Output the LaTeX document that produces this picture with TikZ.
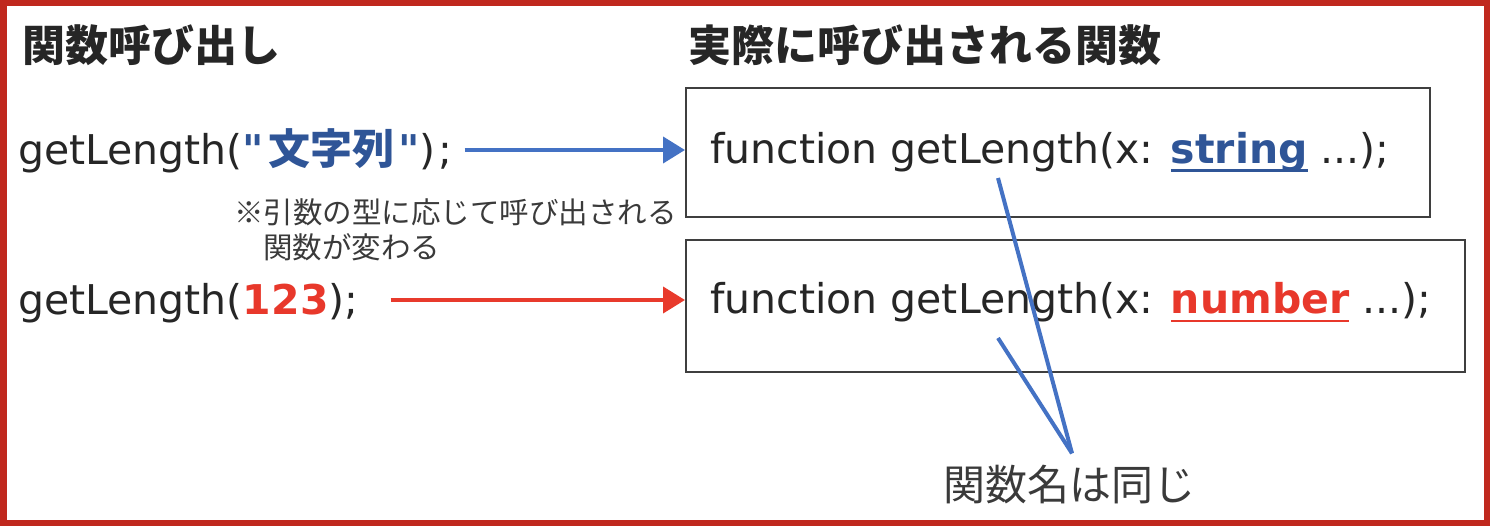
\documentclass[tikz,border=0pt]{standalone}
\usepackage{fontspec}
\setmainfont{DejaVu Sans}
\newfontfamily\dvplain{DejaVu Sans}
\newfontfamily\jp{Noto Sans CJK JP}
\usetikzlibrary{arrows.meta}
\definecolor{framered}{HTML}{C0281E}
\definecolor{cblue}{HTML}{2F5597}
\definecolor{cred}{HTML}{E8382B}
\definecolor{arrblue}{HTML}{4472C4}
\definecolor{arrred}{HTML}{E83A2C}
\definecolor{ink}{HTML}{262626}
\definecolor{notegray}{HTML}{3A3A3A}
\definecolor{boxline}{HTML}{3F3F3F}
\newsavebox\myulbox
\newcommand\myul[1]{\sbox\myulbox{#1}\rlap{\rule[-8pt]{\wd\myulbox}{2.5pt}}\usebox\myulbox}
\newcommand\sq{{\dvplain\bfseries"}}
\tikzset{
  titletext/.style={font={\jp\bfseries\fontsize{43}{43}\selectfont}, text=ink, inner sep=0pt, anchor=west},
  code/.style={font={\fontsize{41}{41}\selectfont}, text=ink, inner sep=0pt, anchor=base west},
  defbox/.style={draw=boxline, line width=2pt, inner sep=0pt},
  callarrow/.style={line width=4pt, -{Triangle[length=22pt,width=26pt]}},
  pointer/.style={draw=arrblue, line width=4pt},
  notetext/.style={font={\jp\fontsize{29.5}{35}\selectfont}, text=notegray, align=left, inner sep=0pt, anchor=north west},
  samelabel/.style={font={\jp\fontsize{42}{42}\selectfont}, text=notegray, inner sep=0pt}
}
\begin{document}
\begin{tikzpicture}[x=1pt,y=-1pt]
\useasboundingbox (0,0) rectangle (1490,526);
\draw[framered, line width=6.5pt] (3.25,3.25) rectangle (1486.75,522.75);

% titles
\node[titletext] (title1) at (22,45) {関数呼び出し};
\node[titletext] (title2) at (688,45) {実際に呼び出される関数};

% calls
\node[code] (call1) at (18,165) {getLength({\color{cblue}\sq\hspace{4pt}{\jp\bfseries\fontsize{42}{42}\selectfont 文字列}\hspace{4pt}\sq})\hspace{3pt};};
\node[code] (call2) at (18,315) {getLength({\bfseries\color{cred}123});};

% note
\node[notetext] (note) at (234,198) {※引数の型に応じて呼び出される\\\hspace{29pt}関数が変わる};

% definition boxes
\node[defbox, minimum width=744pt, minimum height=129pt] (def1) at (1058,152.5) {};
\node[defbox, minimum width=779pt, minimum height=132pt] (def2) at (1075.5,306) {};
\node[code] (def1t) at (710,164) {function getLength(x: {\bfseries\color{cblue}\myul{string}} ...);};
\node[code] (def2t) at (710,314) {function getLength(x: {\bfseries\color{cred}\myul{number}} ...);};

% arrows
\coordinate (b0) at ([xshift=12pt,yshift=15pt]call1.base east);
\coordinate (r0) at ([xshift=32pt,yshift=15pt]call2.base east);
\draw[callarrow, arrblue] (b0) -- (b0 -| def1.west);
\draw[callarrow, arrred] (r0) -- (r0 -| def2.west);

% same-name label and pointers
\node[samelabel] (same) at (1069,485) {関数名は同じ};
\coordinate (p1) at (998,178);
\coordinate (p2) at (998,338);
\draw[pointer] (p1) -- ([xshift=3pt,yshift=12pt]same.north);
\draw[pointer] (p2) -- ([xshift=3pt,yshift=12pt]same.north);
\end{tikzpicture}
\end{document}
